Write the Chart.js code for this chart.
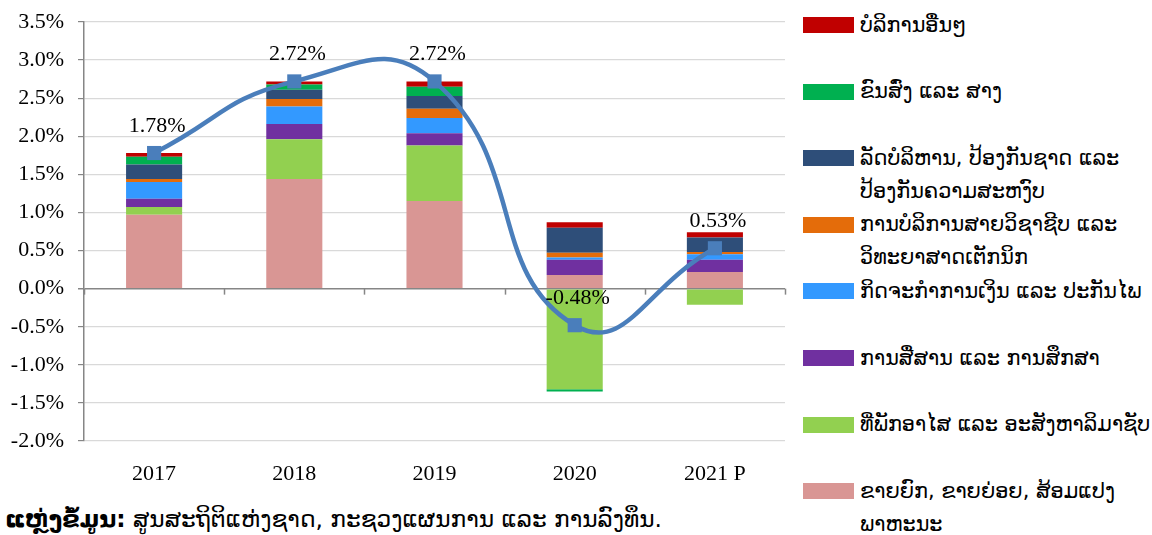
<!DOCTYPE html>
<html>
<head>
<meta charset="utf-8">
<script src="https://cdn.jsdelivr.net/npm/chart.js@4.4.0/dist/chart.umd.min.js"></script>
<style>
  body { margin: 0; background: #fff; width: 1152px; height: 535px; position: relative; overflow: hidden; }
  #c { position: absolute; left: 0; top: 0; }
  #legend { position: absolute; left: 0; top: 0; }
  .item { position: absolute; left: 803px; }
  .swatch { position: absolute; left: 0; width: 51px; height: 16px; }
  .label { position: absolute; left: 57px; width: 300px; font-family: "DejaVu Sans", sans-serif; font-size: 20.8px; line-height: 33px; white-space: pre-line; color: #000; }
  #source { position: absolute; left: 5px; top: 505px; font-family: "DejaVu Sans", sans-serif; font-size: 23.3px; color: #000; }
</style>
</head>
<body>
<canvas id="c" width="790" height="490"></canvas>
<div id="legend"></div>
<div id="source"><b>ແຫຼ່ງຂໍ້ມູນ:</b> ສູນສະຖິຕິແຫ່ງຊາດ, ກະຊວງແຜນການ ແລະ ການລົງທຶນ.</div>
<script>
// Data (contribution to growth, % points)
const years = ['2017', '2018', '2019', '2020', '2021 P'];

const trade = [0.97, 1.44, 1.15, 0.18, 0.22];
const realEstate = [0.10, 0.52, 0.73, -1.32, -0.21];
const commEdu = [0.11, 0.20, 0.16, 0.20, 0.16];
const finance = [0.22, 0.23, 0.20, 0.03, 0.07];
const professional = [0.04, 0.10, 0.12, 0.06, 0.03];
const publicAdmin = [0.19, 0.12, 0.17, 0.33, 0.19];
const transport = [0.10, 0.07, 0.12, -0.03, 0];
const otherServices = [0.05, 0.04, 0.07, 0.07, 0.07];

const total = [1.78, 2.72, 2.72, -0.48, 0.53];

const yTicks = [-2.0, -1.5, -1.0, -0.5, 0.0, 0.5, 1.0, 1.5, 2.0, 2.5, 3.0, 3.5];

// bottom to top of each bar
const series = [
  { label: 'ຂາຍຍົກ, ຂາຍຍ່ອຍ, ສ້ອມແປງ\nພາຫະນະ', data: trade, color: '#D99694' },
  { label: 'ທີ່ພັກອາໄສ ແລະ ອະສັງຫາລິມາຊັບ', data: realEstate, color: '#92D050' },
  { label: 'ການສື່ສານ ແລະ ການສຶກສາ', data: commEdu, color: '#7030A0' },
  { label: 'ກິດຈະກໍາການເງິນ ແລະ ປະກັນໄພ', data: finance, color: '#3399FF' },
  { label: 'ການບໍລິການສາຍວິຊາຊີບ ແລະ\nວິທະຍາສາດເຕັກນິກ', data: professional, color: '#E46C0A' },
  { label: 'ລັດບໍລິຫານ, ປ້ອງກັນຊາດ ແລະ\nປ້ອງກັນຄວາມສະຫງົບ', data: publicAdmin, color: '#2E4E79' },
  { label: 'ຂົນສົ່ງ ແລະ ສາງ', data: transport, color: '#00B050' },
  { label: 'ບໍລິການອື່ນໆ', data: otherServices, color: '#C00000' }
];

const lineColor = '#4A7EBB';

// html legend, top item = last series
const legend = document.getElementById('legend');
series.slice().reverse().forEach((s, i) => {
  const top = 17 + i * 66.6;
  const item = document.createElement('div');
  item.className = 'item';
  item.style.top = top + 'px';
  item.innerHTML = `<div class="swatch" style="background:${s.color}"></div><div class="label" style="top:-8.5px">${s.label}</div>`;
  legend.appendChild(item);
});

// labels above the line points + tick marks on the zero line
const extras = {
  id: 'extras',
  afterDatasetsDraw(chart) {
    const ctx = chart.ctx;
    const x = chart.scales.x;
    const y = chart.scales.y;
    const y0 = y.getPixelForValue(0);
    ctx.save();
    ctx.strokeStyle = '#868686';
    ctx.lineWidth = 1.5;
    for (let i = 0; i <= years.length; i++) {
      const px = Math.round(x.left + i * (x.width / years.length)) + 0.5;
      ctx.beginPath();
      ctx.moveTo(px, y0);
      ctx.lineTo(px, y0 + 6);
      ctx.stroke();
    }
    const meta = chart.getDatasetMeta(chart.data.datasets.length - 1);
    ctx.font = '22px "Liberation Serif", serif';
    ctx.fillStyle = '#000';
    ctx.textAlign = 'center';
    ctx.textBaseline = 'middle';
    meta.data.forEach((pt, i) => {
      ctx.fillText(total[i].toFixed(2) + '%', pt.x + 3, pt.y - 27);
    });
    ctx.restore();
  }
};

const datasets = series.map(s => ({
  type: 'bar',
  label: s.label,
  data: s.data,
  backgroundColor: s.color,
  borderWidth: 0,
  categoryPercentage: 0.8,
  barPercentage: 0.5,
  order: 2
}));

datasets.push({
  type: 'line',
  label: 'total',
  data: total,
  stack: 'total',
  borderColor: lineColor,
  borderWidth: 4.5,
  tension: 0.5,
  pointStyle: 'rect',
  pointRadius: 10,
  pointBackgroundColor: lineColor,
  pointBorderColor: lineColor,
  pointBorderWidth: 0,
  order: 1
});

new Chart(document.getElementById('c'), {
  data: { labels: years, datasets: datasets },
  options: {
    responsive: false,
    animation: false,
    layout: { autoPadding: false, padding: { top: 22, right: 5, left: 0, bottom: 0 } },
    plugins: { legend: { display: false }, tooltip: { enabled: false } },
    scales: {
      x: {
        stacked: true,
        grid: { display: false },
        border: { display: false },
        ticks: { color: '#000', font: { family: 'Liberation Serif', size: 22 }, padding: 12 },
        afterFit: (s) => { s.height = 49; }
      },
      y: {
        stacked: true,
        min: -2,
        max: 3.5,
        afterBuildTicks: (s) => { s.ticks = yTicks.map(v => ({ value: v })); },
        grid: {
          color: (c) => (c.tick && c.tick.value === 0) ? '#868686' : '#D9D9D9',
          lineWidth: (c) => (c.tick && c.tick.value === 0) ? 1.5 : 1.2,
          tickColor: '#868686',
          tickLength: 6
        },
        border: { color: '#868686', width: 1.5 },
        ticks: {
          color: '#000',
          font: { family: 'Liberation Serif', size: 22 },
          padding: 14,
          callback: (v) => Number(v).toFixed(1) + '%'
        },
        afterFit: (s) => { s.width = 84; s.paddingTop = 0; s.paddingBottom = 0; }
      }
    }
  },
  plugins: [extras]
});
</script>
</body>
</html>
